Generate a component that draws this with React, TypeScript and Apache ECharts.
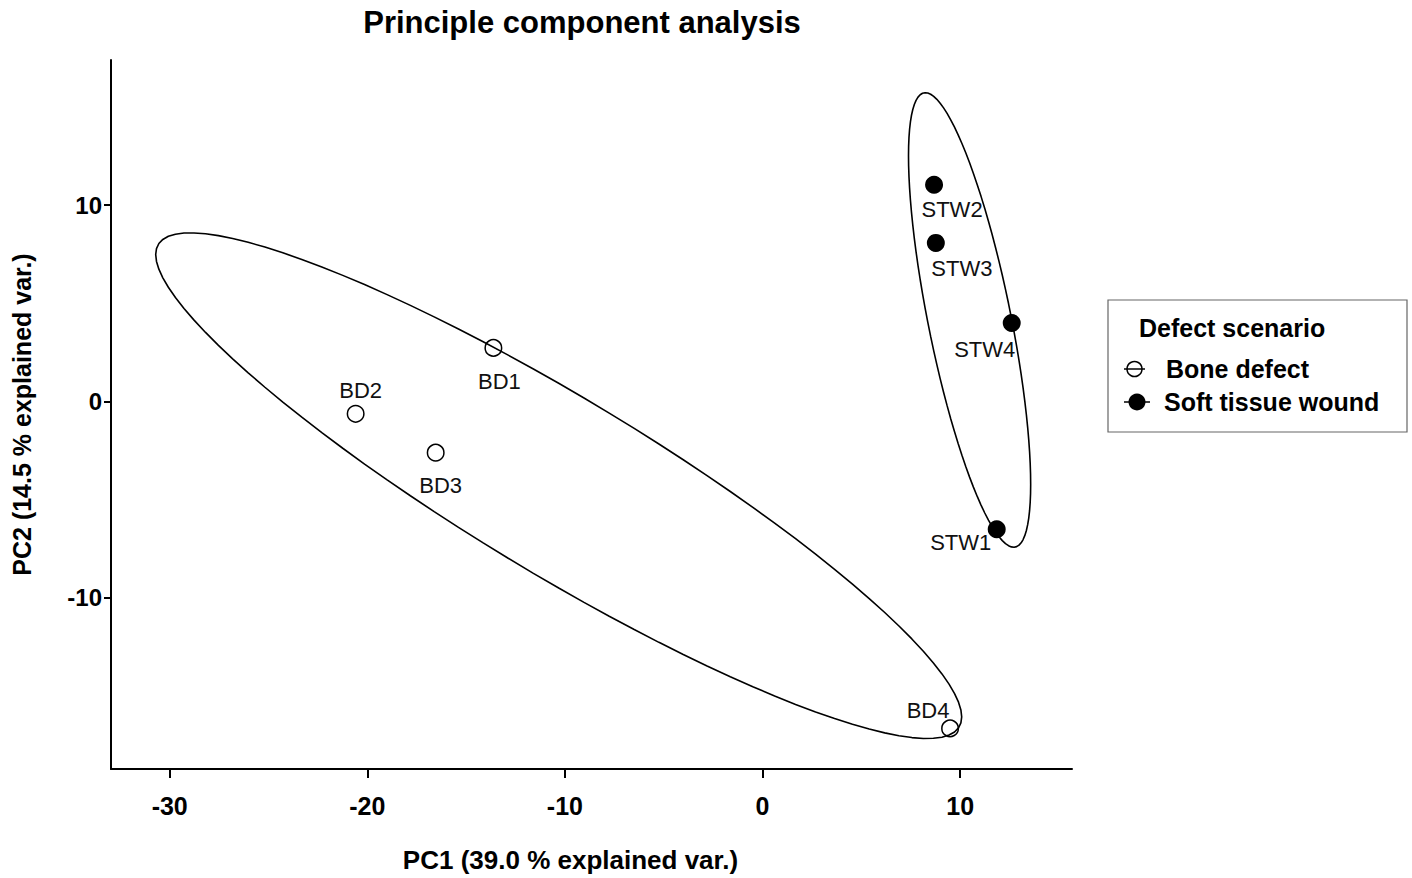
import React, { useEffect, useRef } from "react";
import * as echarts from "echarts";

// ---- data ----
const sampleNames = ["BD1", "BD2", "BD3", "BD4", "STW1", "STW2", "STW3", "STW4"];
const pc1Values = [-13.62, -20.59, -16.54, 9.49, 11.85, 8.68, 8.77, 12.61];
const pc2Values = [2.73, -0.63, -2.61, -16.66, -6.51, 11.04, 8.08, 4.0];
const sampleGroups = [
  "Bone defect", "Bone defect", "Bone defect", "Bone defect",
  "Soft tissue wound", "Soft tissue wound", "Soft tissue wound", "Soft tissue wound",
];
const groupNames = ["Bone defect", "Soft tissue wound"];
const xTickValues = [-30, -20, -10, 0, 10];
const yTickValues = [-10, 0, 10];
const ellipseProb = 0.68;

// ---- label placement (style, not data) ----
const labelOffsets: Record<string, number[]> = {
  BD1: [6, 34],
  BD2: [5, -23],
  BD3: [5, 33],
  BD4: [-22, -18],
  STW1: [-36, 13],
  STW2: [18, 25],
  STW3: [26, 26],
  STW4: [-27, 27],
};

const FONT = "'Liberation Sans', Arial, Helvetica, sans-serif";

// normal-theory data ellipse (as in ggbiplot), computed from the group's points
function dataEllipse(xs: number[], ys: number[], prob: number, n = 100) {
  const m = xs.length;
  const mx = xs.reduce((a, b) => a + b, 0) / m;
  const my = ys.reduce((a, b) => a + b, 0) / m;
  let sxx = 0, syy = 0, sxy = 0;
  for (let i = 0; i < m; i++) {
    sxx += (xs[i] - mx) ** 2;
    syy += (ys[i] - my) ** 2;
    sxy += (xs[i] - mx) * (ys[i] - my);
  }
  sxx /= m - 1; syy /= m - 1; sxy /= m - 1;
  const ed = Math.sqrt(-2 * Math.log(1 - prob));
  const r11 = Math.sqrt(sxx);
  const r12 = sxy / r11;
  const r22 = Math.sqrt(Math.max(syy - r12 * r12, 0));
  const pts: number[][] = [];
  for (let i = 0; i <= n; i++) {
    const t = -Math.PI + (2 * Math.PI * i) / n;
    const c = Math.cos(t), s = Math.sin(t);
    pts.push([mx + ed * c * r11, my + ed * (c * r12 + s * r22)]);
  }
  return pts;
}

export default function App() {
  const ref = useRef<HTMLDivElement>(null);
  useEffect(() => {
    if (!ref.current) return;
    const chart = echarts.init(ref.current, undefined, { renderer: "svg" });

    const ellipseSeries = groupNames.map((g) => {
      const xs: number[] = [], ys: number[] = [];
      sampleGroups.forEach((sg, i) => {
        if (sg === g) { xs.push(pc1Values[i]); ys.push(pc2Values[i]); }
      });
      return {
        type: "line",
        name: g + " ellipse",
        data: dataEllipse(xs, ys, ellipseProb),
        showSymbol: false,
        symbol: "none",
        smooth: false,
        silent: true,
        lineStyle: { color: "#000", width: 1.6, opacity: 1 },
        z: 2,
      };
    });

    const pointSeries = groupNames.map((g, gi) => ({
      type: "scatter",
      name: g,
      symbol: "circle",
      symbolSize: gi === 0 ? 16.5 : 18,
      itemStyle: gi === 0
        ? { color: "rgba(0,0,0,0)", borderColor: "#000", borderWidth: 1.5, opacity: 1 }
        : { color: "#000", borderColor: "#000", borderWidth: 0, opacity: 1 },
      z: 3,
      data: sampleNames
        .map((nm, i) => ({ nm, i }))
        .filter(({ i }) => sampleGroups[i] === g)
        .map(({ nm, i }) => ({
          name: nm,
          value: [pc1Values[i], pc2Values[i]],
          label: { offset: labelOffsets[nm] },
        })),
      label: {
        show: true,
        position: "inside",
        formatter: (p: any) => p.name,
        color: "#111",
        fontFamily: FONT,
        fontSize: 22,
        fontWeight: "normal",
      },
    }));

    const legendX = 1108;
    const legendY = 300;

    chart.setOption({
      animation: false,
      backgroundColor: "#fff",
      textStyle: { fontFamily: FONT },
      grid: { left: 111, top: 60, width: 961, height: 710, containLabel: false },
      xAxis: {
        type: "value",
        min: -32.97,
        max: 15.66,
        splitLine: { show: false },
        axisLine: { show: true, onZero: false, lineStyle: { color: "#000", width: 2 } },
        axisTick: { show: true, length: 9, customValues: xTickValues, lineStyle: { color: "#000", width: 2 } },
        axisLabel: {
          customValues: xTickValues,
          color: "#000",
          fontFamily: FONT,
          fontWeight: "bold",
          fontSize: 25,
          margin: 24,
        },
        name: "PC1 (39.0 % explained var.)",
        nameLocation: "middle",
        nameGap: 78,
        nameTextStyle: {
          color: "#000", fontFamily: FONT, fontWeight: "bold", fontSize: 26,
          padding: [0, 42, 0, 0],
        },
      },
      yAxis: {
        type: "value",
        min: -18.73,
        max: 17.4,
        splitLine: { show: false },
        axisLine: { show: true, onZero: false, lineStyle: { color: "#000", width: 2 } },
        axisTick: { show: true, length: 7, customValues: yTickValues, lineStyle: { color: "#000", width: 2 } },
        axisLabel: {
          customValues: yTickValues,
          color: "#000",
          fontFamily: FONT,
          fontWeight: "bold",
          fontSize: 24,
          margin: 9,
        },
        name: "PC2 (14.5 % explained var.)",
        nameLocation: "middle",
        nameRotate: 90,
        nameGap: 77,
        nameTextStyle: { color: "#000", fontFamily: FONT, fontWeight: "bold", fontSize: 25 },
      },
      graphic: [
        {
          type: "text",
          x: 582,
          y: 22,
          style: {
            text: "Principle component analysis",
            fill: "#000",
            font: `bold 31px ${FONT}`,
            textAlign: "center",
            textVerticalAlign: "middle",
          },
        },
        {
          type: "rect",
          shape: { x: legendX, y: legendY, width: 299, height: 132 },
          style: { fill: "#fff", stroke: "#666", lineWidth: 1.2 },
        },
        {
          type: "text",
          x: 1139,
          y: 328,
          style: { text: "Defect scenario", fill: "#000", font: `bold 25px ${FONT}`, textVerticalAlign: "middle" },
        },
        {
          type: "line",
          shape: { x1: 1124, y1: 369, x2: 1145, y2: 369 },
          style: { stroke: "#000", lineWidth: 1.5 },
        },
        {
          type: "circle",
          shape: { cx: 1134.5, cy: 369, r: 7.5 },
          style: { fill: "none", stroke: "#000", lineWidth: 1.5 },
        },
        {
          type: "text",
          x: 1166,
          y: 369,
          style: { text: groupNames[0], fill: "#000", font: `bold 25px ${FONT}`, textVerticalAlign: "middle" },
        },
        {
          type: "line",
          shape: { x1: 1124, y1: 402, x2: 1150, y2: 402 },
          style: { stroke: "#000", lineWidth: 1.5 },
        },
        {
          type: "circle",
          shape: { cx: 1137, cy: 402, r: 8.5 },
          style: { fill: "#000", stroke: "#000", lineWidth: 0 },
        },
        {
          type: "text",
          x: 1164,
          y: 402,
          style: { text: groupNames[1], fill: "#000", font: `bold 25px ${FONT}`, textVerticalAlign: "middle" },
        },
      ],
      series: [...ellipseSeries, ...pointSeries],
    });

    return () => chart.dispose();
  }, []);

  return (
    <div
      ref={ref}
      style={{ position: "fixed", left: 0, top: 0, width: 1412, height: 878, background: "#fff" }}
    />
  );
}
